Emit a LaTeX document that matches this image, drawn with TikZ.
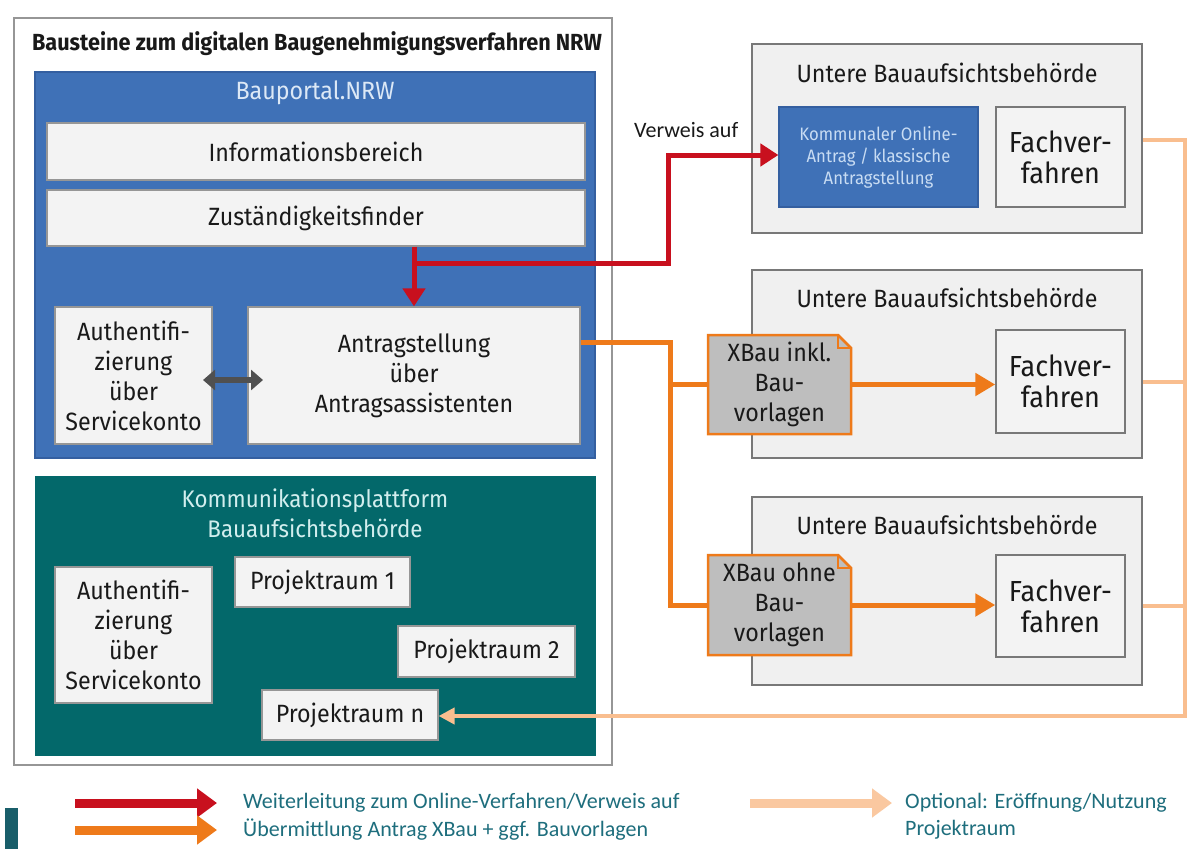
\documentclass[tikz,border=0pt]{standalone}
\usepackage{fontspec}
\setmainfont{Carlito}
\newfontfamily\dfont{Fira Sans}[FakeStretch=0.93]
\usetikzlibrary{arrows.meta,calc}
\definecolor{bpblue}{RGB}{63,113,183}
\definecolor{bpborder}{RGB}{52,95,160}
\definecolor{tealbg}{RGB}{3,104,106}
\definecolor{lbfill}{RGB}{243,243,243}
\definecolor{lbborder}{RGB}{150,150,150}
\definecolor{ubafill}{RGB}{240,240,240}
\definecolor{ubaborder}{RGB}{120,120,120}
\definecolor{myred}{RGB}{200,16,30}
\definecolor{myorange}{RGB}{238,122,26}
\definecolor{mylight}{RGB}{249,190,143}
\definecolor{docfill}{RGB}{190,190,190}
\definecolor{legtext}{RGB}{30,110,125}
\definecolor{txt}{RGB}{25,25,25}
\definecolor{darrow}{RGB}{80,80,80}
\begin{document}
\begin{tikzpicture}[x=1pt,y=-1pt,
  every node/.style={inner sep=0pt,align=center,text=txt},
  lightbox/.style={draw=lbborder,fill=lbfill,line width=1.2pt,font=\dfont\fontsize{25}{30}\selectfont},
  ubabox/.style={draw=ubaborder,fill=ubafill,line width=1.6pt},
  fachbox/.style={draw=ubaborder,fill=lbfill,line width=1.4pt,font=\dfont\fontsize{29}{31}\selectfont,minimum width=129pt},
  ubatitle/.style={font=\dfont\fontsize{25}{28}\selectfont},
  redline/.style={draw=myred,line width=5pt},
  redarrow/.style={redline,-{Triangle[length=18pt,width=22pt]}},
  orline/.style={draw=myorange,line width=5pt},
  orarrow/.style={orline,-{Triangle[length=20pt,width=22pt]}},
  ltline/.style={draw=mylight,line width=4pt},
  ltarrow/.style={ltline,-{Triangle[length=16pt,width=16pt]}},
  docshape/.style={draw=myorange,fill=docfill,line width=2.5pt,line join=miter},
  legtxt/.style={anchor=west,text=legtext,font=\fontsize{22}{26}\selectfont}
]
\useasboundingbox[fill=white] (0,0) rectangle (1187,849);

% ---------- left block ----------
\node[draw=lbborder,fill=white,line width=1.5pt,minimum width=598pt,minimum height=747pt] (outer) at (313,391.5) {};
\node[font=\dfont\bfseries\fontsize{23.3}{28}\selectfont] (title) at (317,44) {Bausteine zum digitalen Baugenehmigungsverfahren NRW};

\node[draw=bpborder,fill=bpblue,line width=1.2pt,minimum width=560pt,minimum height=386pt] (blue) at (315,265) {};
\node[text={rgb,255:red,220;green,232;blue,246},font=\dfont\fontsize{25}{28}\selectfont] (bptitle) at (315,93) {Bauportal.NRW};
\node[lightbox,minimum width=538pt,minimum height=57pt] (info) at (316,151.5) {Informationsbereich};
\node[lightbox,minimum width=538pt,minimum height=56pt] (zust) at (316,218) {Zuständigkeitsfinder};
\node[lightbox,minimum width=157pt,minimum height=137pt] (auth1) at (133.5,375.5) {Authentifi-\\zierung\\über\\Servicekonto};
\node[lightbox,minimum width=332pt,minimum height=137pt] (antr) at (414,375.5) {Antragstellung\\über\\Antragsassistenten};
\coordinate (da) at (203,380);
\coordinate (db) at (263,380);
\draw[draw=darrow,line width=6pt,{Triangle[length=12pt,width=20pt]}-{Triangle[length=12pt,width=20pt]}] (da) -- (db);

\node[draw=tealbg,fill=tealbg,minimum width=560pt,minimum height=279pt] (teal) at (315,615.5) {};
\node[text={rgb,255:red,210;green,238;blue,238},font=\dfont\fontsize{24}{30}\selectfont] (kptitle) at (315,513) {Kommunikationsplattform\\Bauaufsichtsbehörde};
\node[lightbox,minimum width=157pt,minimum height=136pt] (auth2) at (133.5,635) {Authentifi-\\zierung\\über\\Servicekonto};
\node[lightbox,minimum width=175pt,minimum height=50pt] (pr1) at (322.5,582) {Projektraum 1};
\node[lightbox,minimum width=177pt,minimum height=51pt] (pr2) at (486.5,651.5) {Projektraum 2};
\node[lightbox,minimum width=176pt,minimum height=50pt] (prn) at (350,715) {Projektraum n};

% ---------- right block ----------
\node[ubabox,minimum width=390pt,minimum height=189pt] (uba1) at (947,138.5) {};
\node[ubatitle] (uba1t) at (947,73) {Untere Bauaufsichtsbehörde};
\node[draw=bpborder,fill=bpblue,line width=1.2pt,minimum width=199pt,minimum height=100pt,
      text={rgb,255:red,200;green,220;blue,243},font=\dfont\fontsize{18}{22}\selectfont] (komm) at (878.5,157) {Kommunaler Online-\\Antrag / klassische\\Antragstellung};
\node[fachbox,minimum height=100pt] (fach1) at (1060.5,157) {Fachver-\\fahren};

\node[ubabox,minimum width=390pt,minimum height=188pt] (uba2) at (947,364) {};
\node[ubatitle] (uba2t) at (947,298) {Untere Bauaufsichtsbehörde};
\node[fachbox,minimum height=103pt] (fach2) at (1060.5,381.5) {Fachver-\\fahren};

\node[ubabox,minimum width=390pt,minimum height=188pt] (uba3) at (947,591) {};
\node[ubatitle] (uba3t) at (947,525) {Untere Bauaufsichtsbehörde};
\node[fachbox,minimum height=102pt] (fach3) at (1060.5,606) {Fachver-\\fahren};

% documents
\draw[docshape] (708,335) -- (838,335) -- (851,348) -- (851,434) -- (708,434) -- cycle;
\draw[draw=myorange,line width=1.2pt] (838,335) -- (838,348) -- (851,348);
\node[font=\dfont\fontsize{25}{30}\selectfont,minimum width=143pt,minimum height=99pt] (xb1) at (779.5,384.5) {XBau inkl.\\Bau-\\vorlagen};
\draw[docshape] (708,555) -- (838,555) -- (851,568) -- (851,655) -- (708,655) -- cycle;
\draw[draw=myorange,line width=1.2pt] (838,555) -- (838,568) -- (851,568);
\node[font=\dfont\fontsize{25}{30}\selectfont,minimum width=143pt,minimum height=100pt] (xb2) at (779.5,605) {XBau ohne\\Bau-\\vorlagen};

% ---------- red connectors ----------
\coordinate (rj) at (antr.north |- 0,263);
\coordinate (rk) at (668,263);
\coordinate (rl) at (668,155);
\draw[redarrow] (antr.north |- zust.south) -- (antr.north);
\draw[redline,line join=miter] (rj) -- (rk) -- (rl) -- ([xshift=-17pt]komm.west |- rl);
\draw[redarrow] ([xshift=-22pt]komm.west |- rl) -- (komm.west |- rl);
\node[anchor=west,font=\fontsize{22}{26}\selectfont] (verweis) at (634,130) {Verweis auf};

% ---------- orange connectors ----------
\coordinate (o1) at (670,342);
\coordinate (o2) at (670,605);
\draw[orline,line join=miter] (antr.east |- o1) -- (o1) -- (o2) -- (xb2.west);
\draw[orline] (o1 |- xb1.west) -- (xb1.west);
\draw[orarrow] (xb1.east) -- (xb1.east -| fach2.west);
\draw[orarrow] (xb2.east) -- (xb2.east -| fach3.west);

% ---------- light orange connectors ----------
\coordinate (l1) at (1185,140);
\coordinate (l4) at (1185,716);
\draw[ltline] (uba1.east |- l1) -- (l1);
\draw[ltline] (uba2.east |- fach2.east) -- (l1 |- fach2.east);
\draw[ltline] (uba3.east |- fach3.east) -- (l1 |- fach3.east);
\draw[ltarrow,line join=miter] ([yshift=2pt]l1) -- (l4) -- (prn.east |- l4);

% ---------- legend ----------
\fill[legtext!85!black] (5,808) rectangle (18,849);
\coordinate (lg1a) at (75,803); \coordinate (lg1b) at (217,803);
\coordinate (lg2a) at (75,830); \coordinate (lg2b) at (217,830);
\coordinate (lg3a) at (750,803); \coordinate (lg3b) at (892,803);
\draw[myred,line width=9pt,-{Triangle[length=20pt,width=28pt]}] (lg1a) -- (lg1b);
\draw[myorange,line width=9pt,-{Triangle[length=20pt,width=28pt]}] (lg2a) -- (lg2b);
\draw[mylight!85!white,line width=9pt,-{Triangle[length=20pt,width=28pt]}] (lg3a) -- (lg3b);
\node[legtxt] (leg1) at (243,803) {Weiterleitung zum Online-Verfahren/Verweis auf};
\node[legtxt] (leg2) at (243,830) {Übermittlung Antrag XBau + ggf. Bauvorlagen};
\node[legtxt] (leg3) at (905,803) {Optional: Eröffnung/Nutzung};
\node[legtxt] (leg4) at (905,830) {Projektraum};
\end{tikzpicture}
\end{document}
